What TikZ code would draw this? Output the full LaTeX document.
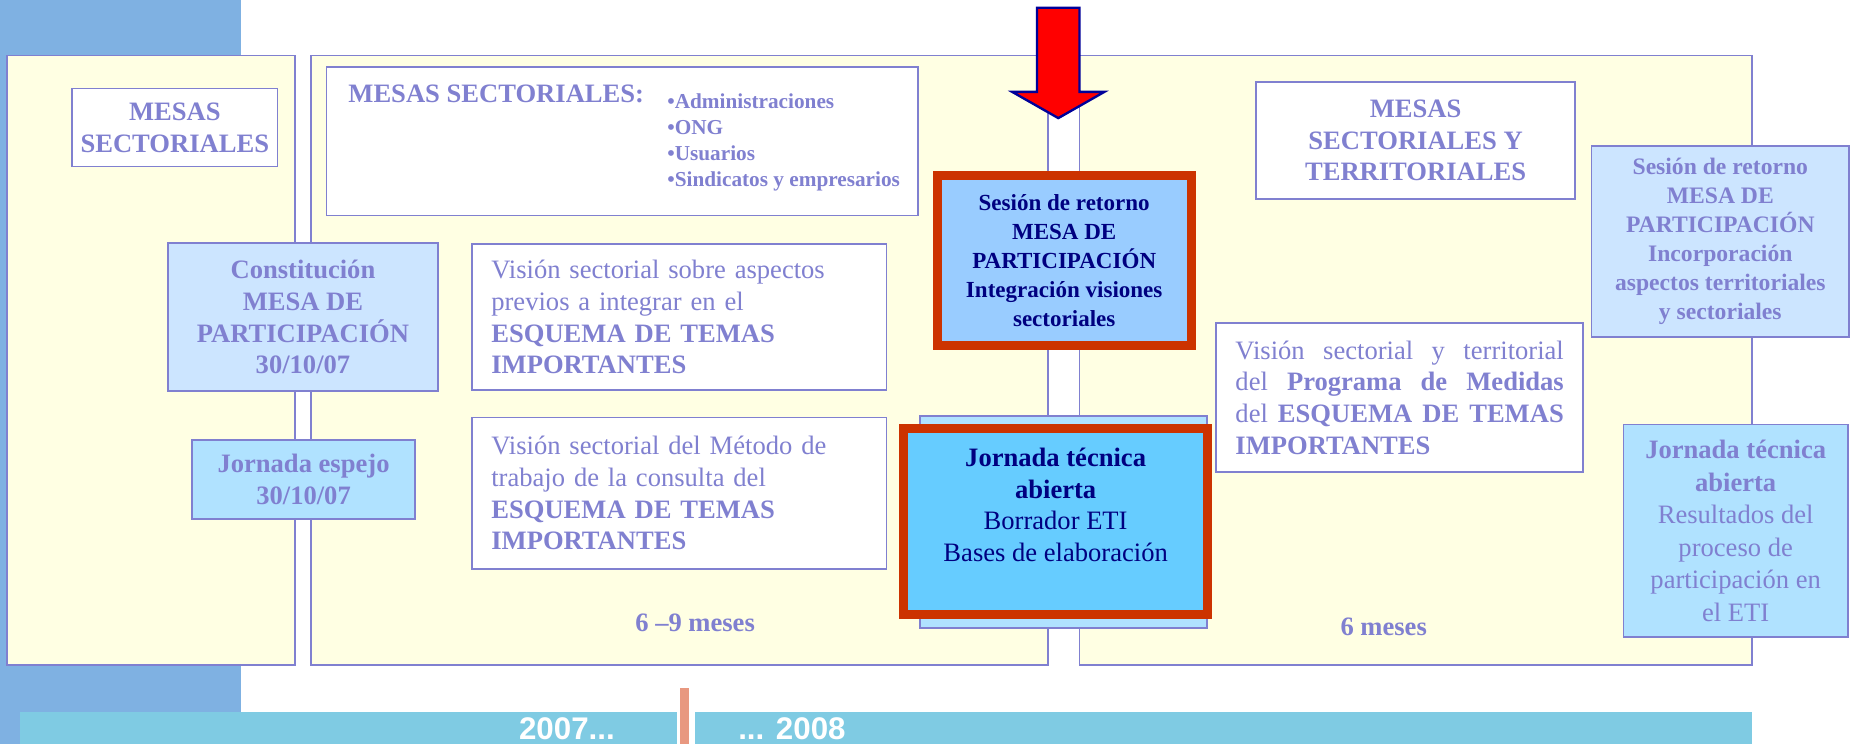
\documentclass[tikz,border=0pt]{standalone}
\usepackage{fontspec}
\setmainfont{Liberation Serif}
\setsansfont{Liberation Sans}
\definecolor{lav}{HTML}{8080D0}
\definecolor{yel}{HTML}{FFFFE3}
\definecolor{bandblue}{HTML}{7FB1E2}
\definecolor{barcyan}{HTML}{7FCBE3}
\definecolor{salmonz}{HTML}{E89880}
\definecolor{paleblue}{HTML}{CCE5FF}
\definecolor{skyb}{HTML}{B0E2FF}
\definecolor{sesfill}{HTML}{99CCFF}
\definecolor{jorfill}{HTML}{66CCFF}
\definecolor{redb}{HTML}{CC3300}
\definecolor{navyz}{HTML}{000080}
\definecolor{arrownavy}{HTML}{000099}
\newcommand\zB{\fontsize{11.25pt}{13.4pt}\selectfont}
\newcommand\zBR{\fontsize{11.25pt}{13.8pt}\selectfont}
\newcommand\zS{\fontsize{9pt}{11pt}\selectfont}
\newcommand\zSes{\fontsize{9.75pt}{12.25pt}\selectfont}
\newcommand\zSesR{\fontsize{10pt}{12.25pt}\selectfont}
\newcommand\zY{\fontsize{13.25pt}{15pt}\selectfont}
\begin{document}
\begin{tikzpicture}[x=0.5pt,y=-0.5pt,
  every node/.style={inner sep=0pt, outer sep=0pt},
  panel/.style={draw=lav, line width=0.75pt, fill=yel},
  box/.style={draw=lav, line width=0.75pt, text=lav, align=center},
  redbox/.style={draw=redb, line width=3.75pt, align=center},
  lavtext/.style={text=lav},
  arrowst/.style={fill=red, draw=arrownavy, line width=1pt, line join=miter},
  year/.style={font=\sffamily\bfseries\zY, text=white, anchor=base}]
\useasboundingbox (0,0) rectangle (1568,630);
\fill[white] (0,0) rectangle (1568,630);
\fill[bandblue] (0,0) rectangle (204,630);
% panels
\draw[panel] (6,47) rectangle (250,563);
\draw[panel] (263,47) rectangle (887,563);
\draw[panel] (914,47) rectangle (1483,563);
% timeline
\fill[barcyan] (17,603) rectangle (573,630);
\fill[barcyan] (588.5,603) rectangle (1483,630);
\fill[salmonz] (576,582.5) rectangle (583,630);
\node[year] (y07) at (480,626.5) {2007...};
\node[year] (y08) at (670.5,626.5) {... 2008};
% left panel
\node[box, fill=white, minimum width=87pt, minimum height=33pt, font=\zB\bfseries] (mesasL) at (148,108) {MESAS\\SECTORIALES};
\node[box, fill=paleblue, minimum width=114.5pt, minimum height=62.5pt, font=\zB\bfseries] (constit) at (256.5,268.5) {Constitución\\MESA DE\\PARTICIPACIÓN\\30/10/07};
\node[box, fill=skyb, minimum width=94.5pt, minimum height=33.5pt, font=\zB\bfseries] (espejo) at (257,406) {Jornada espejo\\30/10/07};
% middle panel
\node[box, fill=white, minimum width=250.5pt, minimum height=63pt] (mesasM) at (527,119.5) {};
\node[lavtext, font=\zB\bfseries, anchor=base west] (mesasMt) at (295,87) {MESAS SECTORIALES:};
\node[lavtext, font=\zS\bfseries, anchor=north west, align=left] (mesasMl) at (565,77.1) {\rule{0pt}{0.8em}•Administraciones\\•ONG\\•Usuarios\\•Sindicatos y empresarios};
\node[box, fill=white, minimum width=175.5pt, minimum height=62pt, text width=159pt, align=left, inner xsep=8.25pt, font=\zB] (vis1) at (575,268.5) {Visión sectorial sobre aspectos\\previos a integrar en el\\\textbf{ESQUEMA DE TEMAS}\\\textbf{IMPORTANTES}};
\node[box, fill=white, minimum width=175.5pt, minimum height=64pt, text width=159pt, align=left, inner xsep=8.25pt, font=\zB] (vis2) at (575,417.5) {Visión sectorial del Método de\\trabajo de la consulta del\\\textbf{ESQUEMA DE TEMAS}\\\textbf{IMPORTANTES}};
\node[lavtext, font=\zB\bfseries, anchor=base] (m69) at (588.5,535) {6 –9 meses};
% center column
\node[redbox, fill=sesfill, text=navyz, minimum width=107.5pt, minimum height=72pt, font=\zSes\bfseries] (sesC) at (901,220.5) {Sesión de retorno\\MESA DE\\PARTICIPACIÓN\\Integración visiones\\sectoriales};
\node[box, fill=skyb, minimum width=121.5pt, minimum height=89.75pt] (jorB) at (900.5,441.75) {};
\node[redbox, fill=jorfill, minimum width=128.75pt, minimum height=79pt] (jorC) at (893.75,441.5) {};
\node[text=navyz, font=\zB, align=center, anchor=north] (jorCt) at (893.75,377) {\rule{0pt}{0.8em}\textbf{Jornada técnica}\\\textbf{abierta}\\Borrador ETI\\Bases de elaboración};
% right panel
\node[box, fill=white, minimum width=135pt, minimum height=49.5pt, font=\zB\bfseries] (mesasR) at (1198.5,119) {MESAS\\SECTORIALES Y\\TERRITORIALES};
\node[box, fill=white, minimum width=155.5pt, minimum height=63pt, text width=139pt, align=justify, inner xsep=8.25pt, font=\zB] (vis3) at (1185,336.5) {\noindent Visión sectorial y territorial\linebreak del \textbf{Programa de Medidas}\linebreak del \textbf{ESQUEMA DE TEMAS}\linebreak \textbf{IMPORTANTES}};
\node[lavtext, font=\zB\bfseries, anchor=base] (m6) at (1171.5,538) {6 meses};
\node[box, fill=paleblue, minimum width=109pt, minimum height=81pt, font=\zSesR\bfseries] (sesR) at (1456.5,204.5) {Sesión de retorno\\MESA DE\\PARTICIPACIÓN\\Incorporación\\aspectos territoriales\\y sectoriales};
\node[box, fill=skyb, minimum width=95pt, minimum height=90pt, font=\zBR] (jorR) at (1469.5,449.5) {\textbf{Jornada técnica}\\\textbf{abierta}\\Resultados del\\proceso de\\participación en\\el ETI};
% arrow
\draw[arrowst] (878,6.6) -- (914,6.6) -- (914,77.8) -- (935,77.8) -- (896,100) -- (857,77.8) -- (878,77.8) -- cycle;
\end{tikzpicture}
\end{document}
